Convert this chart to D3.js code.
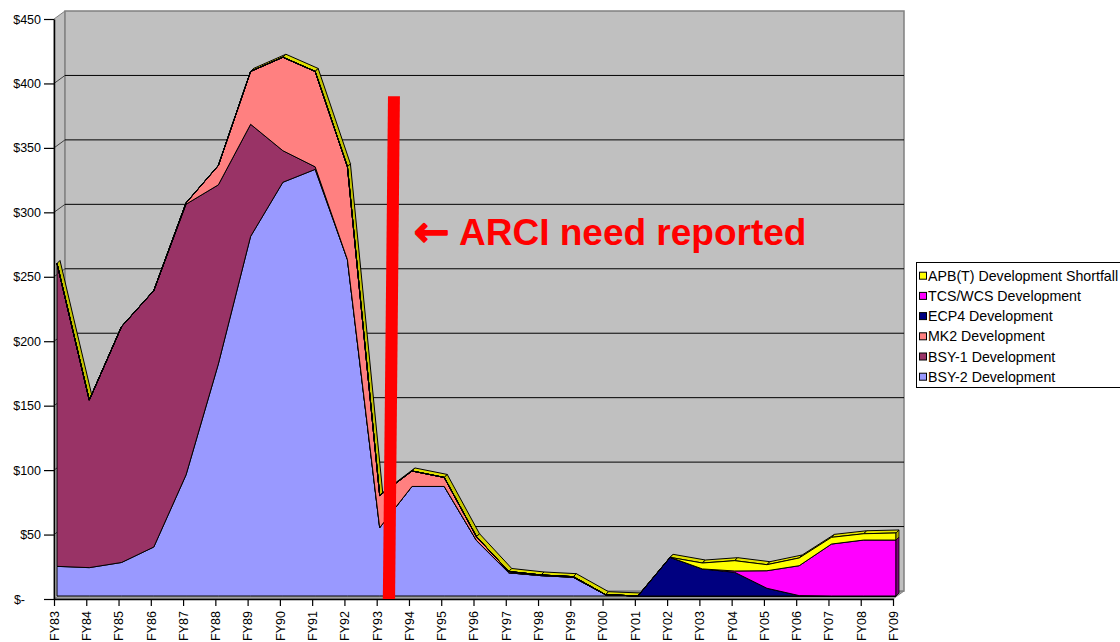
<!DOCTYPE html>
<html lang="en">
<head>
    <meta charset="UTF-8">
    <script src="https://cdn.jsdelivr.net/npm/d3@7"></script>
    <title>Development funding</title>
    <style>
        body { margin: 0; background: #fff; }
        svg { display: block; }
        text { font-family: Arial, 'Liberation Sans', sans-serif; }
    </style>
</head>
<body>
    <svg width="1120" height="642"></svg>

    <script>
        // data ($M)
        const years = ['FY83','FY84','FY85','FY86','FY87','FY88','FY89','FY90','FY91','FY92','FY93','FY94','FY95','FY96',
                       'FY97','FY98','FY99','FY00','FY01','FY02','FY03','FY04','FY05','FY06','FY07','FY08','FY09'];
        const bsy2 = [23, 22, 26, 38, 94, 180, 279, 321, 331, 261, 53, 85, 85, 43, 18, 15.8, 14.5, 1, 0, 0, 0, 0, 0, 0, 0, 0, 0];
        const bsy1 = [235, 130, 183, 199, 210, 139, 87, 24.5, 2, 0, 0, 0, 0, 0, 0, 0, 0, 0, 0, 0, 0, 0, 0, 0, 0, 0, 0];
        const mk2  = [0, 0, 0, 0, 1, 15, 41, 72.5, 74, 72, 25, 12, 7, 3, 1, 0.5, 0.5, 0, 0, 0, 0, 0, 0, 0, 0, 0, 0];
        const ecp4 = [0, 0, 0, 0, 0, 0, 0, 0, 0, 0, 0, 0, 0, 0, 0, 0, 0, 0, 0, 30, 21, 18.4, 6, 0.3, 0, 0, 0];
        const tcs  = [0, 0, 0, 0, 0, 0, 0, 0, 0, 0, 0, 0, 0, 0, 0, 0, 0, 0, 0, 0, 0, 1, 13.6, 23.2, 40.3, 43.4, 43.4];
        const apb  = [0, 0, 0, 0, 0, 0, 0, 0, 0, 0, 0, 0, 0, 0, 0, 0, 0, 0, 0, 0, 4.6, 8, 4.7, 6, 5.2, 4.9, 5.5];

        const seriesNames = ['BSY-2 Development', 'BSY-1 Development', 'MK2 Development',
                             'ECP4 Development', 'TCS/WCS Development', 'APB(T) Development Shortfall'];
        const seriesColors = ['#9999ff', '#993366', '#ff8080', '#000080', '#ff00ff', '#ffff00'];
        const sideColors = ['#6b6bb3', '#6b2447', '#b35a5a', '#000059', '#800080', '#b3b300'];
        const yTicks = [0, 50, 100, 150, 200, 250, 300, 350, 400, 450];

        const svg = d3.select('svg');

        // 3d look: series face and back wall are shifted from the axis plane
        const face = {dx: 3, dy: -3};
        const topFace = {dx: 3, dy: -3};
        const wall = {dx: 11, dy: -8};

        const x = d3.scalePoint().domain(years).range([54, 893]);
        const y = d3.scaleLinear().domain([0, 450]).range([599, 19]);

        const table = years.map((yr, i) => ({
            year: yr, s0: bsy2[i], s1: bsy1[i], s2: mk2[i], s3: ecp4[i], s4: tcs[i], s5: apb[i]
        }));
        const keys = ['s0', 's1', 's2', 's3', 's4', 's5'];
        const stacked = d3.stack().keys(keys)(table);

        // walls
        const x0 = x.range()[0], x1 = x.range()[1];
        svg.append('polygon')
            .attr('points', [[x0, y(0)], [x1, y(0)], [x1 + wall.dx, y(0) + wall.dy], [x0 + wall.dx, y(0) + wall.dy]].join(' '))
            .attr('fill', '#a0a0a0').attr('stroke', '#808080');
        svg.append('polygon')
            .attr('points', [[x0, y(0)], [x0, y(450)], [x0 + wall.dx, y(450) + wall.dy], [x0 + wall.dx, y(0) + wall.dy]].join(' '))
            .attr('fill', '#c0c0c0').attr('stroke', '#808080');
        svg.append('rect')
            .attr('x', x0 + wall.dx).attr('y', y(450) + wall.dy)
            .attr('width', x1 - x0).attr('height', y(0) - y(450))
            .attr('fill', '#c0c0c0').attr('stroke', '#808080').attr('stroke-width', 1.5);

        const grid = svg.append('g');
        yTicks.filter(v => v > 0 && v < 450).forEach(v => {
            grid.append('line')
                .attr('x1', x0 + wall.dx).attr('x2', x1 + wall.dx)
                .attr('y1', y(v) + wall.dy).attr('y2', y(v) + wall.dy)
                .attr('stroke', '#000');
            grid.append('line')
                .attr('x1', x0).attr('x2', x0 + wall.dx)
                .attr('y1', y(v)).attr('y2', y(v) + wall.dy)
                .attr('stroke', '#404040');
        });

        // top face of the whole stack
        const totals = stacked[stacked.length - 1].map(d => d[1]);
        const fx = i => x(years[i]) + face.dx;
        const fy = v => y(v) + face.dy;
        const ribbon = svg.append('g');
        for (let i = 0; i < years.length - 1; i++) {
            const a = [fx(i), fy(totals[i])], b = [fx(i + 1), fy(totals[i + 1])];
            const slope = (b[1] - a[1]) / (b[0] - a[0]);
            const c = slope > 0 ? d3.interpolateRgb('#e6e600', '#c4c400')(Math.min(1, slope / 2)) : '#e6e600';
            ribbon.append('polygon')
                .attr('points', [a, b, [b[0] + topFace.dx, b[1] + topFace.dy], [a[0] + topFace.dx, a[1] + topFace.dy]].join(' '))
                .attr('fill', c).attr('stroke', '#000').attr('stroke-width', 1).attr('stroke-linejoin', 'round');
        }

        // front faces
        const area = d3.area()
            .x((d, i) => fx(i))
            .y0(d => fy(d[0]))
            .y1(d => fy(d[1]));
        svg.append('g')
            .selectAll('path')
            .data(stacked)
            .enter()
            .append('path')
            .attr('d', area)
            .attr('fill', (d, i) => seriesColors[i])
            .attr('stroke', '#000')
            .attr('stroke-width', 1)
            .attr('stroke-linejoin', 'round');

        // right end faces
        const last = years.length - 1;
        svg.append('g')
            .selectAll('polygon')
            .data(stacked.filter(s => s[last][1] - s[last][0] > 0))
            .enter()
            .append('polygon')
            .attr('points', s => {
                const px = fx(last), lo = fy(s[last][0]), hi = fy(s[last][1]);
                return [[px, lo], [px, hi], [px + topFace.dx, hi + topFace.dy], [px + topFace.dx, lo + topFace.dy]].join(' ');
            })
            .attr('fill', s => sideColors[s.index])
            .attr('stroke', '#000').attr('stroke-width', 0.8);

        // axes
        const yAxis = d3.axisLeft(y)
            .tickValues(yTicks)
            .tickSize(10).tickSizeOuter(0).tickPadding(3)
            .tickFormat(d => d === 0 ? '$-' : '$' + d);
        const gy = svg.append('g').attr('transform', `translate(${x0},0)`).call(yAxis);
        gy.selectAll('text').style('font-size', '12.5px').attr('fill', '#000');
        gy.selectAll('.tick').filter(d => d === 0).select('text').attr('x', -29);
        gy.selectAll('.tick line').attr('stroke-width', 1.2);
        gy.select('.domain').attr('stroke-width', 1.5);

        const xAxis = d3.axisBottom(x).tickSize(7).tickSizeOuter(0);
        const gx = svg.append('g').attr('transform', `translate(0,${y(0)})`).call(xAxis);
        gx.selectAll('text')
            .attr('transform', 'rotate(-90)')
            .attr('x', -12).attr('y', 0).attr('dy', '0.35em')
            .style('text-anchor', 'end')
            .style('font-size', '12.5px')
            .attr('fill', '#000');
        gx.select('.domain').attr('stroke-width', 1.5);
        gx.selectAll('.tick line').attr('stroke-width', 1.2);

        // red marker between FY93 and FY94
        const step = x.step();
        const markTop = 390;
        const bx = x('FY93');
        svg.append('polygon')
            .attr('points', [
                [bx + 0.35 * step, y(markTop)], [bx + 0.72 * step, y(markTop)],
                [bx + 0.57 * step, y(0)], [bx + 0.19 * step, y(0)]
            ].join(' '))
            .attr('fill', '#ff0000');

        const note = svg.append('text')
            .attr('x', 414).attr('y', 245)
            .attr('fill', '#ff0000')
            .style('font-size', '37px')
            .style('font-weight', 'bold');
        note.append('tspan')
            .style('font-family', "'DejaVu Sans', sans-serif")
            .style('font-weight', 'normal')
            .style('font-size', '42px')
            .attr('dy', 1)
            .attr('stroke', '#ff0000')
            .attr('stroke-width', 2.2)
            .attr('stroke-linejoin', 'round')
            .text('\u2190');
        note.append('tspan')
            .attr('x', 459).attr('dy', -1)
            .text('ARCI need reported');

        // legend
        const legend = svg.append('g');
        legend.append('rect')
            .attr('x', 916.5).attr('y', 262.5).attr('width', 220).attr('height', 125)
            .attr('fill', '#fff').attr('stroke', '#000');
        const order = d3.range(seriesNames.length).reverse();
        order.forEach((k, i) => {
            const ly = 275.7 + i * 20.2;
            legend.append('rect')
                .attr('x', 919.5).attr('y', ly - 3.5).attr('width', 7).attr('height', 7)
                .attr('fill', seriesColors[k]).attr('stroke', '#000');
            legend.append('text')
                .attr('x', 928).attr('y', ly).attr('dy', '0.36em')
                .style('font-size', '14.2px')
                .text(seriesNames[k]);
        });
    </script>
</body>
</html>
